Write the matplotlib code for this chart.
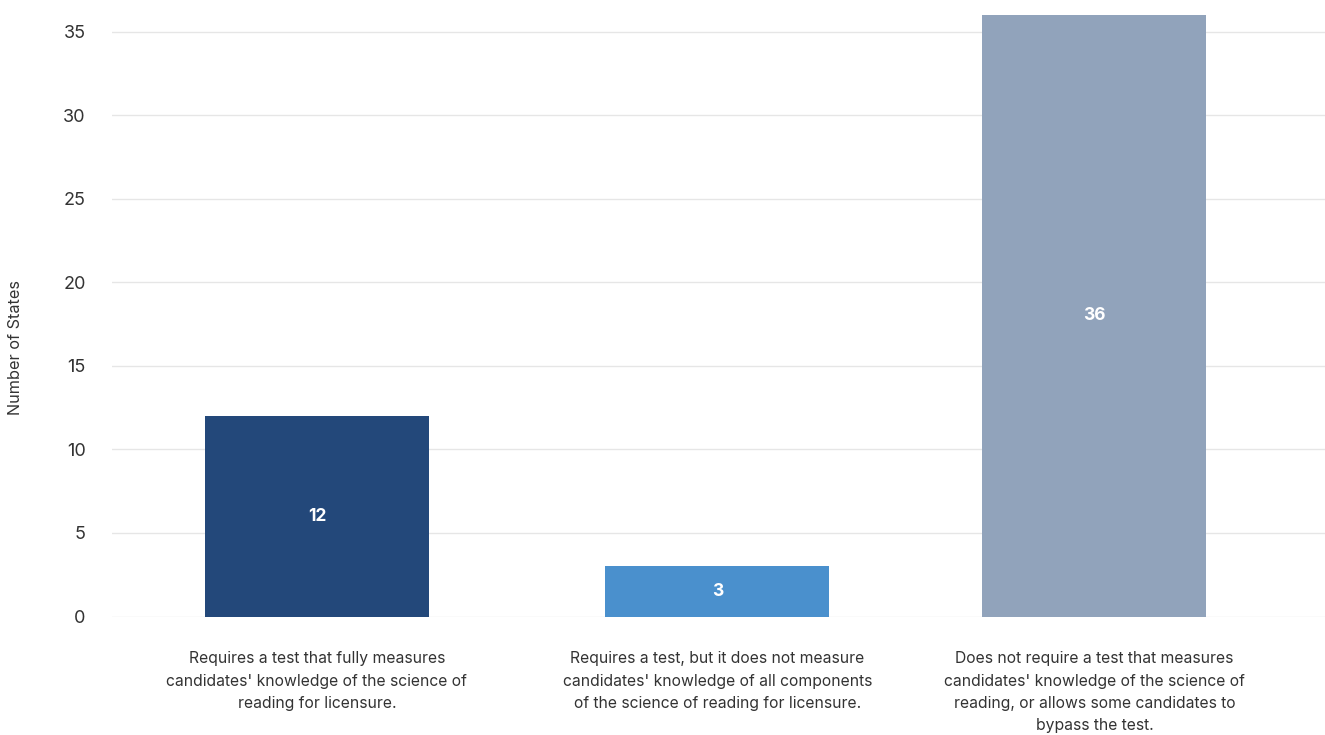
import matplotlib.pyplot as plt
import numpy as np

plt.rcParams['font.family'] = ['Inter', 'DejaVu Sans']

categories = [
    "Requires a test that fully measures\ncandidates' knowledge of the science of\nreading for licensure.",
    "Requires a test, but it does not measure\ncandidates' knowledge of all components\nof the science of reading for licensure.",
    "Does not require a test that measures\ncandidates' knowledge of the science of\nreading, or allows some candidates to\nbypass the test.",
]
values = [12, 3, 36]
colors = ['#23487A', '#4A90CD', '#91A3BB']
y_ticks = [0, 5, 10, 15, 20, 25, 30, 35]

fig = plt.figure(figsize=(13.25, 7.35), dpi=100)
ax = fig.add_axes([112 / 1325, 1 - 616.5 / 735, (1325 - 112) / 1325, (616.5 - 10) / 735])

# slot centres as in the original layout (middle one sits a bit right)
x = np.array([0, 1.03, 2])
bars = ax.bar(x, values, width=0.576, color=colors, zorder=3)

for b, v in zip(bars, values):
    ax.text(b.get_x() + b.get_width() / 2, v / 2, str(v), ha='center', va='center',
            color='white', fontsize=12.5, fontweight='bold', zorder=4)

ax.set_xlim(-0.527, 2.593)
ax.set_ylim(0, 36.3)
ax.set_yticks(y_ticks)
ax.set_yticklabels([str(t) for t in y_ticks])
ax.grid(axis='y', color='#e6e6e6', linewidth=1, zorder=0)
for s in ax.spines.values():
    s.set_visible(False)
ax.tick_params(axis='y', length=0, pad=19, labelsize=13, labelcolor='#333333')
ax.tick_params(axis='x', length=0)
ax.set_xticks([])

for xi, lab in zip(x, categories):
    ax.annotate(lab, xy=(xi, 0), xycoords=('data', 'axes fraction'), xytext=(0, -35),
                textcoords='offset pixels', ha='center', va='top', fontsize=11.3,
                color='#333333', linespacing=1.6)

fig.text(16 / 1325, 1 - 348 / 735, 'Number of States', rotation=90, ha='center', va='center',
         fontsize=11.7, color='#333333')

fig.savefig('out.png', dpi=100)
